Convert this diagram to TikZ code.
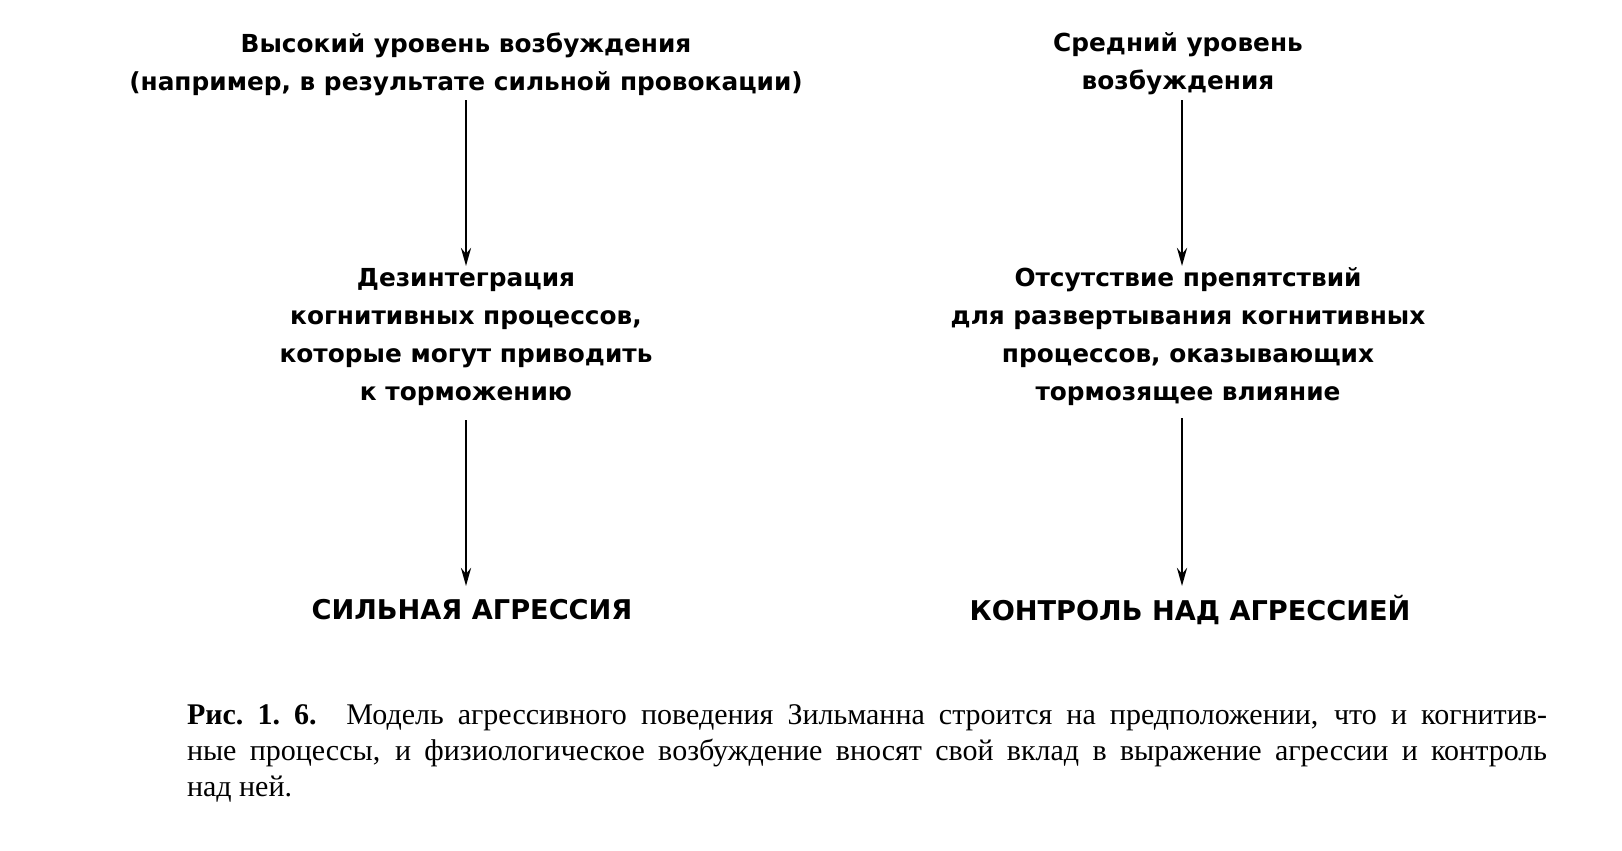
\documentclass[tikz,border=0pt]{standalone}
\usepackage{fontspec}
\setmainfont{Liberation Serif}
\newfontfamily\dfont{DejaVu Sans}
\usetikzlibrary{arrows.meta}
\begin{document}
\begin{tikzpicture}[x=0.5pt,y=-0.5pt,
  lbl/.style={font=\dfont\bfseries\fontsize{12.4}{19}\selectfont,align=center,inner sep=0pt},
  res/.style={font=\dfont\bfseries\fontsize{13.6}{19}\selectfont,inner sep=0pt},
  arr/.style={-{Stealth[length=9pt,width=5pt]},line width=1.4pt}]
\useasboundingbox (0,0) rectangle (1622,851);
\fill[white] (0,0) rectangle (1622,851);
\node[lbl] (a1) at (466,64) {Высокий уровень возбуждения\\(например, в результате сильной провокации)};
\node[lbl] (a2) at (466,337) {Дезинтеграция\\когнитивных процессов,\\которые могут приводить\\к торможению};
\node[res] (a3) at (472,610) {СИЛЬНАЯ АГРЕССИЯ};
\node[lbl] (b1) at (1178,64) {Средний уровень\\возбуждения};
\node[lbl] (b2) at (1188,337) {Отсутствие препятствий\\для развертывания когнитивных\\процессов, оказывающих\\тормозящее влияние};
\node[res] (b3) at (1190,610) {КОНТРОЛЬ НАД АГРЕССИЕЙ};
\coordinate (p1) at (466,100); \coordinate (p2) at (466,266);
\coordinate (p3) at (466,420); \coordinate (p4) at (466,586);
\coordinate (q1) at (1182,100); \coordinate (q2) at (1182,266);
\coordinate (q3) at (1182,418); \coordinate (q4) at (1182,586);
\draw[arr] (p1) -- (p2);
\draw[arr] (p3) -- (p4);
\draw[arr] (q1) -- (q2);
\draw[arr] (q3) -- (q4);
\node[inner sep=0pt,text width=680pt,align=justify,font=\fontsize{15}{18}\selectfont] (cap) at (867,753)
{\textbf{Рис.~1.~6.} Модель агрессивного поведения Зильманна строится на предположении, что и когнитив-\linebreak ные процессы, и физиологическое возбуждение вносят свой вклад в выражение агрессии и контроль\linebreak над ней.};
\end{tikzpicture}
\end{document}
